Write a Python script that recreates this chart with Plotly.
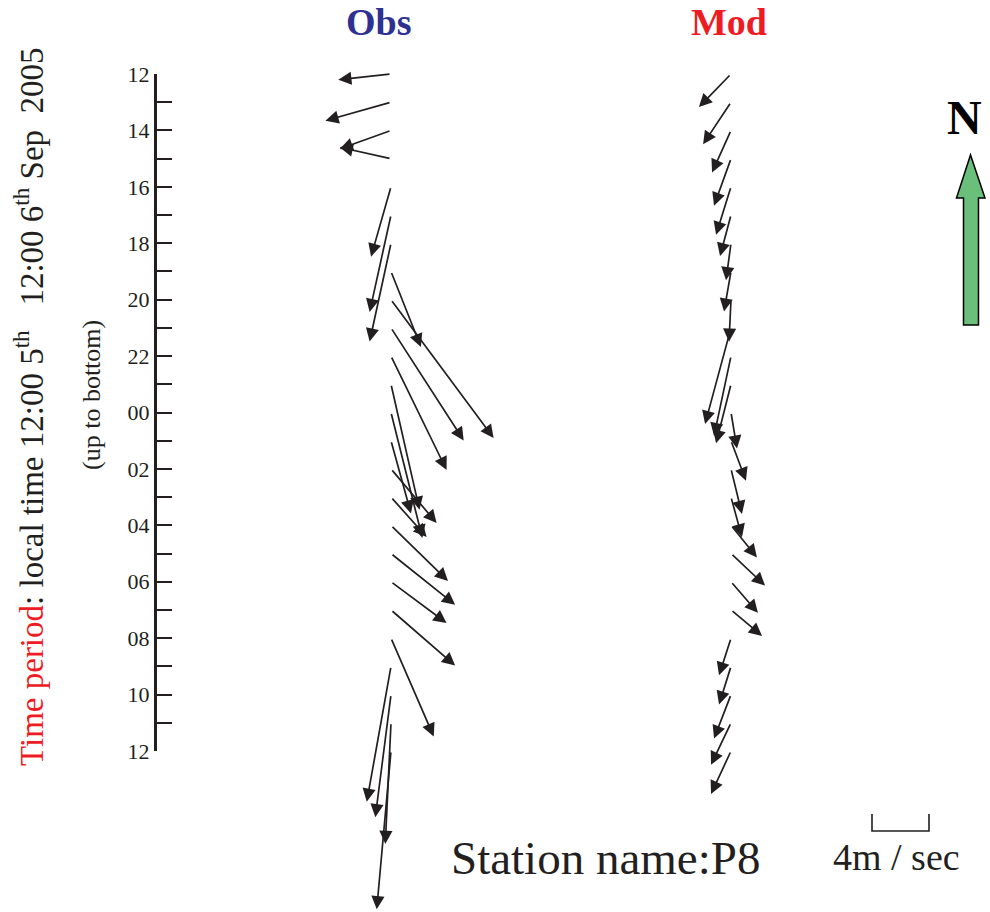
import plotly.graph_objects as go

# ---------------- data ----------------
hour_labels = ["12", "13", "14", "15", "16", "17", "18", "19", "20", "21", "22", "23",
               "00", "01", "02", "03", "04", "05", "06", "07", "08", "09", "10", "11", "12"]
hours = list(range(len(hour_labels)))

# wind components (m/s): u eastward, v northward
obs_u = [-3.7, -4.6, -3.6, -3.6, -1.4, -1.5, -1.5, 2.1, 7.2, 5.1, 3.9, 2.0, 2.2,
         1.4, 3.2, 2.5, 4.0, 4.5, 3.9, 4.5, 3.0, -1.7, -1.1, -0.4, -1.0]
obs_v = [-0.4, -1.3, -1.3, 0.8, -4.9, -6.8, -6.9, -5.3, -9.7, -7.9, -8.0, -8.8, -8.8,
         -5.1, -3.8, -2.8, -3.9, -3.6, -2.9, -3.9, -6.9, -9.5, -8.6, -8.5, -11.1]
mod_u = [-2.25, -1.96, -1.33, -1.19, -1.05, -0.77, -0.35, -0.49, -0.14, -1.82, -1.19, -1.05, 0.42,
         1.05, 0.77, 0.77, 1.82, 2.39, 1.89, 2.18, -0.84, -0.84, -1.19, -1.40, -1.40]
mod_v = [-2.32, -2.95, -2.95, -3.30, -3.37, -2.88, -2.60, -2.81, -2.95, -6.74, -5.61, -4.14, -2.53,
         -2.81, -3.16, -2.81, -2.25, -2.25, -2.18, -1.82, -2.60, -2.67, -3.09, -2.95, -3.02]
scale_speed = 4  # m/s reference bar

# ---------------- layout geometry ----------------
W, H = 990, 912
L, R, T, B = 157, 0, 74, 161
PLOT_W = W - L - R
PLOT_H = H - T - B
PX_PER_MS = 14.25
PX_PER_HOUR = PLOT_H / (len(hours) - 1)
K = PX_PER_MS / PX_PER_HOUR
OBS_PX, MOD_PX = 391, 731
OBS_X0 = 0.0
MOD_X0 = (MOD_PX - OBS_PX) / PX_PER_MS

def px_x(p):
    return (p - L) / PLOT_W

def px_y(p):
    return (H - B - p) / PLOT_H

SERIF = "Liberation Serif"
INK = "#231f20"

fig = go.Figure()
fig.add_trace(go.Scatter(x=[OBS_X0, MOD_X0], y=[0, 0], mode="markers",
                         marker=dict(size=1, color="rgba(0,0,0,0)"),
                         hoverinfo="skip", showlegend=False))

annotations = []
for x0, us, vs in ((OBS_X0, obs_u, obs_v), (MOD_X0, mod_u, mod_v)):
    for h, u, v in zip(hours, us, vs):
        annotations.append(dict(
            x=x0 + u, y=h - v * K, xref="x", yref="y",
            ax=x0, ay=h, axref="x", ayref="y",
            text="", showarrow=True, arrowhead=2, arrowsize=1.55,
            arrowwidth=1.7, arrowcolor=INK, standoff=0, startstandoff=0))

def label(text, cx, cy, size, color=INK, bold=False, angle=0):
    t = "<b>%s</b>" % text if bold else text
    annotations.append(dict(
        x=px_x(cx), y=px_y(cy), xref="paper", yref="paper",
        text=t, showarrow=False, textangle=angle,
        xanchor="center", yanchor="middle",
        font=dict(family=SERIF, size=size, color=color)))

label("Obs", 378, 22, 38, color="#2e3192", bold=True)
label("Mod", 729, 22, 38, color="#ed1c24", bold=True)
label("N", 964, 117, 48, color="#000000", bold=True)
label("Station name:P8", 605, 858, 47)
label("4m\u00a0/\u00a0sec", 896, 857, 38)
nb = "\u00a0"
ytitle = ("<span style='color:#ed1c24'>Time" + nb + "period</span>:" + nb + "local" + nb + "time"
          + nb + "12:00" + nb + "5<sup>th</sup>" + nb * 3 + "12:00" + nb + "6<sup>th</sup>" + nb
          + "Sep" + nb * 2 + "2005")
label(ytitle, 29, 407, 33, angle=-90)
label("(up to bottom)", 91, 395, 26, angle=-90)

shapes = []
# scale bar (4 m/s) in data units along x
sx1 = (872 - OBS_PX) / PX_PER_MS
sx2 = sx1 + scale_speed
y_top, y_bot = px_y(814), px_y(831)
shapes.append(dict(type="path", xref="x", yref="paper",
                   path="M%f,%f L%f,%f L%f,%f L%f,%f" % (sx1, y_top, sx1, y_bot, sx2, y_bot, sx2, y_top),
                   line=dict(color=INK, width=1.6)))
# north arrow
pts = [(963.5, 325), (963.5, 198), (956.5, 198), (970.5, 155), (985, 198), (978.5, 198), (978.5, 325)]
path = "M" + " L".join("%f,%f" % (px_x(a), px_y(b)) for a, b in pts) + " Z"
shapes.append(dict(type="path", xref="paper", yref="paper", path=path,
                   fillcolor="#6abf7b", line=dict(color="#000000", width=1.5)))

fig.update_layout(
    width=W, height=H,
    margin=dict(l=L, r=R, t=T, b=B, pad=0),
    paper_bgcolor="white", plot_bgcolor="white",
    showlegend=False,
    xaxis=dict(visible=False, range=[(L - OBS_PX) / PX_PER_MS, (W - R - OBS_PX) / PX_PER_MS],
               fixedrange=True),
    yaxis=dict(range=[len(hours) - 1, 0], showgrid=False, zeroline=False,
               showline=True, linecolor=INK, linewidth=3,
               ticks="inside", ticklen=15, tickwidth=2, tickcolor=INK,
               tickmode="array", tickvals=hours,
               ticktext=[lab if i % 2 == 0 else "" for i, lab in enumerate(hour_labels)],
               tickfont=dict(family=SERIF, size=22, color=INK),
               ticklabelstandoff=0, fixedrange=True),
    annotations=annotations,
    shapes=shapes,
)

fig.write_html("out.html", config={"displayModeBar": False},
               post_script="document.body.style.margin='0px';document.body.style.overflow='hidden';")
